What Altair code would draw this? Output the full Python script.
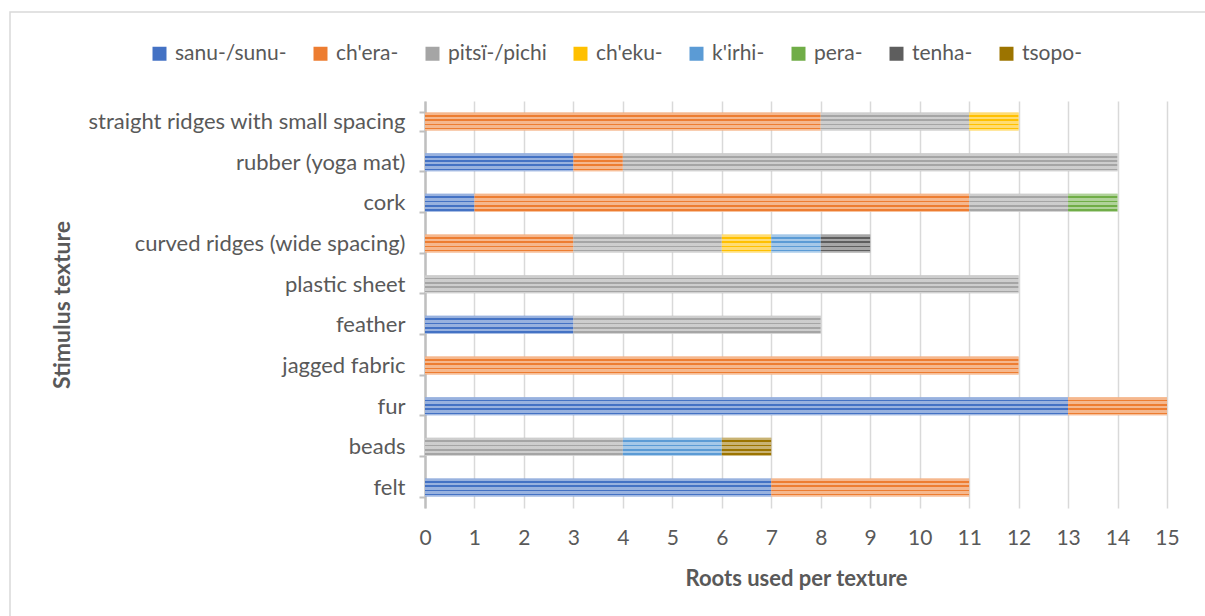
import altair as alt
import pandas as pd

# Textures, listed from the top row of the chart to the bottom row
textures = [
    "straight ridges with small spacing",
    "rubber (yoga mat)",
    "cork",
    "curved ridges (wide spacing)",
    "plastic sheet",
    "feather",
    "jagged fabric",
    "fur",
    "beads",
    "felt",
]

roots = ["sanu-/sunu-", "ch'era-", "pitsï-/pichi", "ch'eku-", "k'irhi-", "pera-", "tenha-", "tsopo-"]
root_colors = ["#4472C4", "#ED7D31", "#A5A5A5", "#FFC000", "#5B9BD5", "#70AD47", "#5E5E5E", "#9C7400"]

# Number of uses of each root per texture (same order as `textures`)
sanu   = [0, 3, 1, 0, 0, 3, 0, 13, 0, 7]
chera  = [8, 1, 10, 3, 0, 0, 12, 2, 0, 4]
pitsi  = [3, 10, 2, 3, 12, 5, 0, 0, 4, 0]
cheku  = [1, 0, 0, 1, 0, 0, 0, 0, 0, 0]
kirhi  = [0, 0, 0, 1, 0, 0, 0, 0, 2, 0]
pera   = [0, 0, 1, 0, 0, 0, 0, 0, 0, 0]
tenha  = [0, 0, 0, 1, 0, 0, 0, 0, 0, 0]
tsopo  = [0, 0, 0, 0, 0, 0, 0, 0, 1, 0]

x_ticks = list(range(0, 16))

series = [sanu, chera, pitsi, cheku, kirhi, pera, tenha, tsopo]
rows = []
for i, (root, vals) in enumerate(zip(roots, series)):
    for tex, v in zip(textures, vals):
        if v > 0:
            rows.append({"texture": tex, "root": root, "idx": i, "count": v})
df = pd.DataFrame(rows)

FONT = "Lato"
TEXT = "#595959"
W, H = 742, 407
PAD_L, PAD_T = 425, 101

x_enc = alt.X(
    "count:Q",
    stack="zero",
    scale=alt.Scale(domain=[0, 15], nice=False),
    axis=alt.Axis(
        values=x_ticks, format="d", grid=True, gridColor="#D9D9D9", gridWidth=1.5,
        domain=False, ticks=False, labelPadding=19, labelFontSize=21, labelFlush=False,
        title="Roots used per texture", titleFontSize=22, titleFontWeight="bold",
        titleY=70, titleBaseline="middle",
    ),
)
y_enc = alt.Y(
    "texture:N",
    sort=textures,
    scale=alt.Scale(paddingInner=0.55, paddingOuter=0.28),
    axis=alt.Axis(
        domainColor="#BFBFBF", domainWidth=2.5, tickColor="#BFBFBF", tickWidth=2,
        tickSize=6, tickBand="extent", labelPadding=14, labelFontSize=22, labelLimit=0,
        title="Stimulus texture", titleFontSize=23, titleFontWeight="bold",
        titleX=-363, titleY=H / 2, titleBaseline="middle", titleAngle=270,
    ),
)

bars = alt.Chart(df).mark_bar(size=18).encode(
    x=x_enc,
    y=y_enc,
    color=alt.Color(
        "root:N",
        scale=alt.Scale(domain=roots, range=root_colors),
        legend=alt.Legend(
            title=None, orient="none", direction="horizontal", legendX=-276, legendY=-58,
            symbolType="square", symbolSize=196, symbolStrokeWidth=0, labelFontSize=21,
            columnPadding=23, labelOffset=5, padding=0, labelLimit=0,
        ),
    ),
    order=alt.Order("idx:Q"),
)

# White banding drawn over each bar segment
stripes = alt.LinearGradient(
    gradient="linear", x1=0, y1=0, x2=0, y2=1,
    stops=[
        alt.GradientStop(offset=0.0, color="rgba(255,255,255,0.45)"),
        alt.GradientStop(offset=0.14, color="rgba(255,255,255,0.45)"),
        alt.GradientStop(offset=0.14, color="rgba(255,255,255,0)"),
        alt.GradientStop(offset=0.24, color="rgba(255,255,255,0)"),
        alt.GradientStop(offset=0.24, color="rgba(255,255,255,0.45)"),
        alt.GradientStop(offset=0.38, color="rgba(255,255,255,0.45)"),
        alt.GradientStop(offset=0.38, color="rgba(255,255,255,0)"),
        alt.GradientStop(offset=0.48, color="rgba(255,255,255,0)"),
        alt.GradientStop(offset=0.48, color="rgba(255,255,255,0.45)"),
        alt.GradientStop(offset=0.62, color="rgba(255,255,255,0.45)"),
        alt.GradientStop(offset=0.62, color="rgba(255,255,255,0)"),
        alt.GradientStop(offset=0.72, color="rgba(255,255,255,0)"),
        alt.GradientStop(offset=0.72, color="rgba(255,255,255,0.45)"),
        alt.GradientStop(offset=0.86, color="rgba(255,255,255,0.45)"),
        alt.GradientStop(offset=0.86, color="rgba(255,255,255,0)"),
        alt.GradientStop(offset=0.93, color="rgba(255,255,255,0)"),
        alt.GradientStop(offset=0.93, color="rgba(255,255,255,0.5)"),
        alt.GradientStop(offset=1.0, color="rgba(255,255,255,0.5)"),
    ],
)
overlay = alt.Chart(df).mark_bar(size=18, fill=stripes, strokeWidth=0).encode(
    x=alt.X("count:Q", stack="zero"),
    y=alt.Y("texture:N", sort=textures),
    detail="root:N",
    order=alt.Order("idx:Q"),
)

# Outer frame of the chart area
frame = alt.Chart(pd.DataFrame({"k": [0]})).mark_rect(
    fill="transparent", stroke="#D9D9D9", strokeWidth=1.5
).encode(
    x=alt.value(10 - PAD_L), x2=alt.value(W + 200),
    y=alt.value(12 - PAD_T), y2=alt.value(H + 300),
)

chart = (
    alt.layer(frame, bars, overlay)
    .properties(width=W, height=H, autosize="none",
                padding={"left": PAD_L, "top": PAD_T, "right": 1205 - PAD_L - W, "bottom": 616 - PAD_T - H})
    .configure(background="white", font=FONT)
    .configure_view(stroke=None)
    .configure_axis(labelColor=TEXT, titleColor=TEXT, labelFont=FONT, titleFont=FONT)
    .configure_legend(labelColor=TEXT, labelFont=FONT)
)

chart.save("out.html", embed_options={"renderer": "svg", "actions": False})
